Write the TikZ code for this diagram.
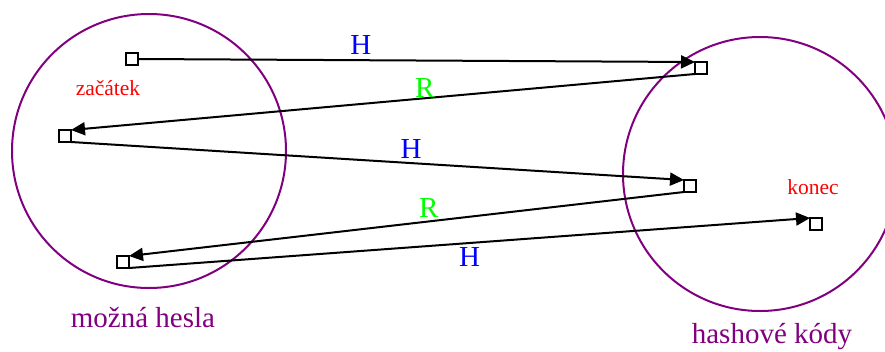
\documentclass[tikz,border=0pt]{standalone}
\usepackage{fontspec}
\setmainfont{Liberation Serif}
\usetikzlibrary{arrows.meta}

\definecolor{fialova}{RGB}{128,0,128}
\definecolor{zelena}{RGB}{0,255,0}

\begin{document}
\begin{tikzpicture}[x=1pt,y=-1pt,>={Triangle[length=14pt,width=13pt]},
    bod/.style={draw, line width=2pt, minimum size=12pt, inner sep=0pt, outer sep=0pt},
    mnozina/.style={draw=fialova, line width=2pt},
    hash/.style={text=blue, font=\fontsize{29}{32}\selectfont, inner sep=0pt},
    redukce/.style={text=zelena, font=\fontsize{29}{32}\selectfont, inner sep=0pt},
    popis/.style={text=fialova, font=\fontsize{29}{32}\selectfont},
    krajni/.style={text=red, font=\fontsize{21.5}{24}\selectfont}]
    \useasboundingbox (0,0) rectangle (885,351);

    % mnoziny hesel a kodu
    \draw[mnozina] (149,151) circle (137pt);
    \draw[mnozina] (760,174) circle (137pt);
    \node[popis] (hesla) at (143,318) {možná hesla};
    \node[popis] (kody) at (772,337) {hashové kódy};

    % body retezce
    \node[bod] (l1) at (132,59) {};
    \node[bod] (l2) at (65,136) {};
    \node[bod] (l3) at (123,262) {};
    \node[bod] (k1) at (701,68) {};
    \node[bod] (k2) at (690,186) {};
    \node[bod] (k3) at (816,224) {};
    \node[krajni] (zac) at (108,88) {začátek};
    \node[krajni] (kon) at (813,187) {konec};

    \path[->, line width=2pt]
    (l1.east) edge node[hash, pos=.40, above=5pt] {H} (k1.north west)
    (k1.south west) edge node[redukce, pos=.433, above=0pt] {R} (l2.north east)
    (l2.south east) edge node[hash, pos=.555, above=4pt] {H} (k2.north west)
    (k2.south west) edge node[redukce, pos=.46, above=3pt] {R} (l3.north east)
    (l3.south east) edge node[hash, pos=.5, below=4pt] {H} (k3.north west);
\end{tikzpicture}
\end{document}
